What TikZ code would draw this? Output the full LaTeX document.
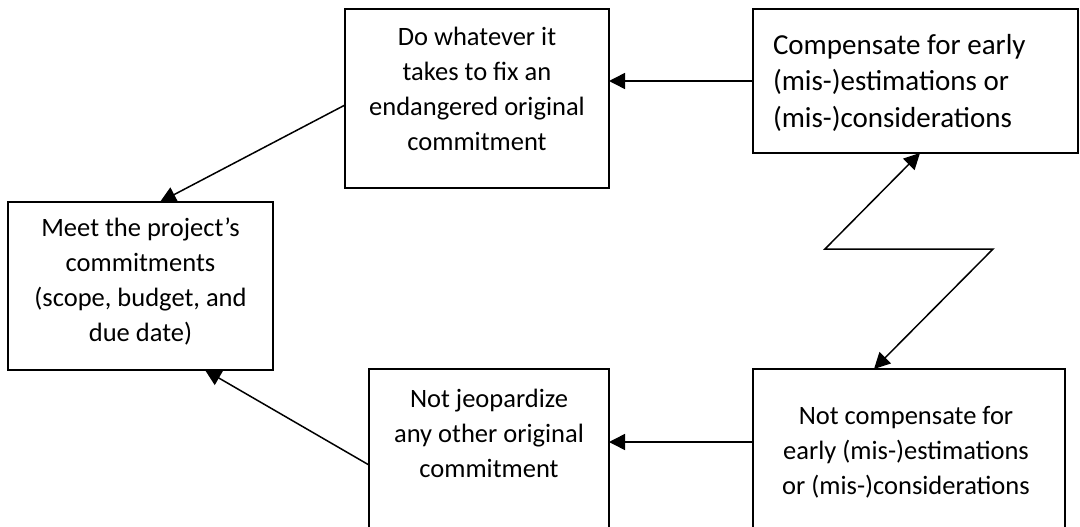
\documentclass[tikz,border=0pt]{standalone}
\usepackage{fontspec}
\setmainfont{Carlito}
\usetikzlibrary{arrows.meta}
\begin{document}
\begin{tikzpicture}[x=1pt,y=-1pt,
  box/.style={draw=black,line width=1.8pt,inner sep=0pt,outer sep=0pt},
  txt/.style={inner sep=0pt,outer sep=0pt,align=center,font=\fontsize{26.5}{35}\selectfont},
  txtc/.style={inner sep=0pt,outer sep=0pt,align=left,font=\fontsize{29}{36.7}\selectfont},
  link/.style={line width=1.5pt,-{Triangle[length=16pt,width=16pt]}},
  dlink/.style={line width=1.5pt,{Triangle[length=16pt,width=16pt]}-{Triangle[length=16pt,width=16pt]}}]
\useasboundingbox (0,0) rectangle (1080,527);
% boxes
\node[box,minimum width=265pt,minimum height=168pt] (A) at (140.5,286) {};
\node[box,minimum width=264pt,minimum height=179pt] (B) at (477,98.5) {};
\node[box,minimum width=325pt,minimum height=144pt] (C) at (915.5,81) {};
\node[box,minimum width=240pt,minimum height=166pt] (D) at (489,452) {};
\node[box,minimum width=312pt,minimum height=166pt] (E) at (909,452) {};
% texts
\node[txt,anchor=north] (At) at (140.5,218) {Meet the project’s\\commitments\\(scope, budget, and\\due date)};
\node[txt,anchor=north] (Bt) at (477,27) {Do whatever it\\takes to fix an\\endangered original\\commitment};
\node[txtc,anchor=north west] (Ct) at (773,34) {Compensate for early\\(mis-)estimations or\\(mis-)considerations};
\node[txt,anchor=north] (Dt) at (489,389) {Not jeopardize\\any other original\\commitment};
\node[txt,anchor=north] (Et) at (906,406) {Not compensate for\\early (mis-)estimations\\or (mis-)considerations};
% connectors
\coordinate (z1) at (993,249);
\coordinate (z2) at (825,249);
\draw[link] (C.west) -- (C.west -| B.east);
\draw[link] ([yshift=-6.5pt]B.west) -- ([xshift=19.5pt]A.north);
\draw[link] ([yshift=10pt]E.west) -- ([yshift=10pt]D.east);
\draw[link] ([yshift=-13pt]D.west) -- ([xshift=64.5pt]A.south);
\draw[dlink] ([xshift=-35pt]E.north) -- (z1) -- (z2) -- ([xshift=4.5pt]C.south);
\end{tikzpicture}
\end{document}
